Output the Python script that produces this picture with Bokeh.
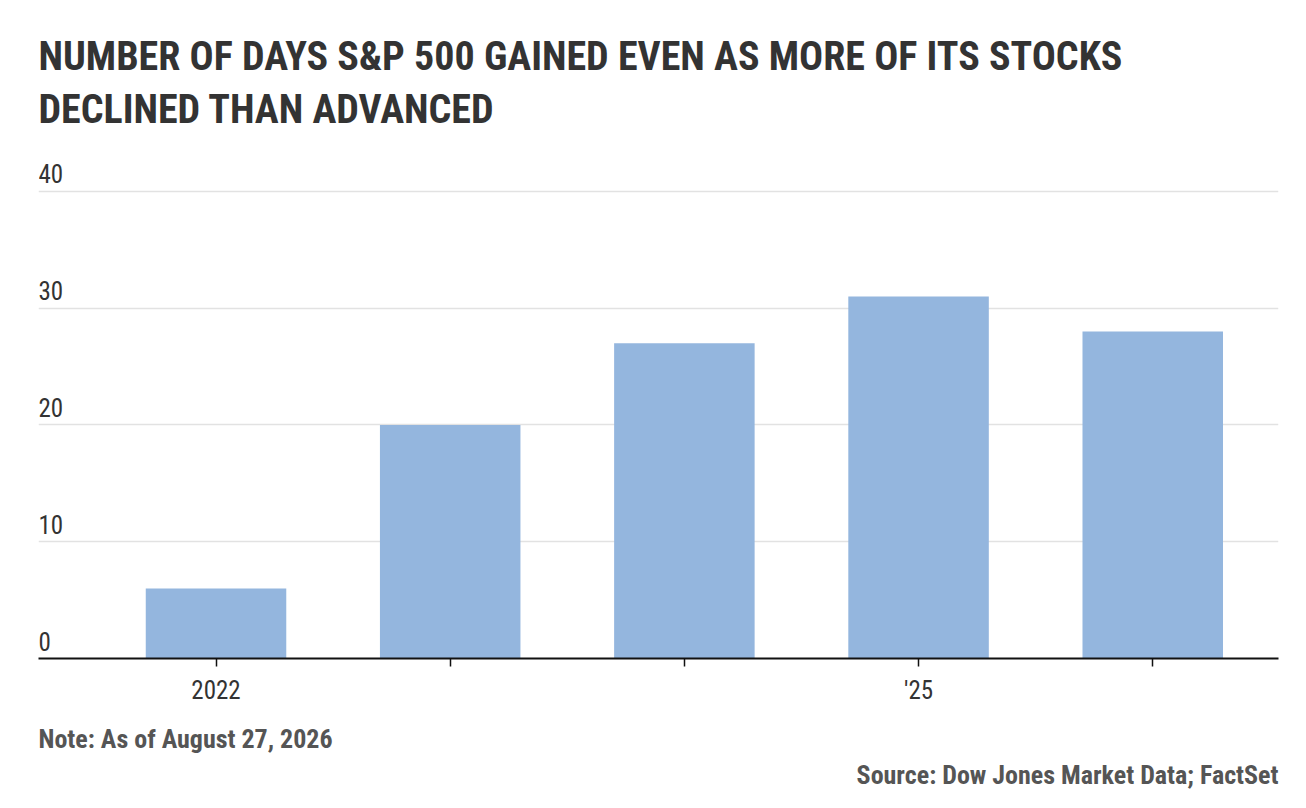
from bokeh.core.properties import value
from bokeh.embed import file_html
from bokeh.models import ColumnDataSource, FixedTicker, LabelSet, Title
from bokeh.plotting import figure
from bokeh.resources import INLINE

# data
years = [2022, 2023, 2024, 2025, 2026]
days = [6, 20, 27, 31, 28]
year_labels = ["2022", "", "", "'25", ""]
y_ticks = [0, 10, 20, 30, 40]

title_lines = ["NUMBER OF DAYS S&P 500 GAINED EVEN AS MORE OF ITS STOCKS",
               "DECLINED THAN ADVANCED"]
note = "Note: As of August 27, 2026"
source_txt = "Source: Dow Jones Market Data; FactSet"

FONT = "Roboto Condensed"
BAR = "#94b6de"

src = ColumnDataSource(data=dict(year=years, days=days))
ysrc = ColumnDataSource(data=dict(tick=y_ticks, label=[str(t) for t in y_ticks]))

# y range runs a bit past 40 so the "40" label fits inside the frame
p = figure(width=1298, height=800, output_backend="svg", toolbar_location=None,
           tools="", x_range=(2021.242, 2026.537), y_range=(0, 44.71),
           min_border_left=38, min_border_right=20,
           min_border_top=136, min_border_bottom=142)
p.outline_line_color = None
p.background_fill_color = "white"
p.border_fill_color = "white"

p.vbar(x="year", top="days", width=0.6, source=src,
       fill_color=BAR, line_color=None)

# x axis: tick under every bar, labels only for some
p.xaxis.ticker = FixedTicker(ticks=years)
p.xaxis.major_label_overrides = {y: l for y, l in zip(years, year_labels)}
p.xaxis.axis_line_color = "#111111"
p.xaxis.axis_line_width = 2
p.xaxis.major_tick_line_color = "#111111"
p.xaxis.major_tick_line_width = 1.5
p.xaxis.major_tick_out = 8
p.xaxis.major_tick_in = 0
p.xaxis.minor_tick_line_color = None
p.xaxis.major_label_standoff = 9
p.xaxis.major_label_text_font = FONT
p.xaxis.major_label_text_font_size = "25px"
p.xaxis.major_label_text_color = "#333333"
p.xgrid.grid_line_color = None

# y axis hidden; labels sit above the grid lines
p.yaxis.visible = False
p.yaxis.ticker = FixedTicker(ticks=y_ticks)
p.ygrid.ticker = FixedTicker(ticks=y_ticks[1:])
p.ygrid.grid_line_color = "#e2e2e2"
p.ygrid.grid_line_width = 1.5

ylabels = LabelSet(x=0, x_units="screen", y="tick", text="label", source=ysrc,
                   y_offset=8, text_baseline="alphabetic", text_align="left",
                   text_font=value(FONT), text_font_size="25px",
                   text_color="#333333")
p.add_layout(ylabels)

# title: second line first, so it sits nearest the plot
p.add_layout(Title(text=title_lines[1], align="left", standoff=8,
                   text_font=FONT, text_font_size="40px", text_font_style="bold",
                   text_color="#333333"), "above")
p.add_layout(Title(text=title_lines[0], align="left", standoff=0,
                   text_font=FONT, text_font_size="40px", text_font_style="bold",
                   text_color="#333333"), "above")

# small spacer between axis and note
p.add_layout(Title(text=" ", standoff=11, text_font_size="1px"), "below")
p.add_layout(Title(text=note, align="left", standoff=0, text_font=FONT,
                   text_font_size="26px", text_font_style="bold",
                   text_color="#555555"), "below")
p.add_layout(Title(text=source_txt, align="right", standoff=9, text_font=FONT,
                   text_font_size="26px", text_font_style="bold",
                   text_color="#555555"), "below")

open("out.html", "w").write(file_html(p, INLINE))
